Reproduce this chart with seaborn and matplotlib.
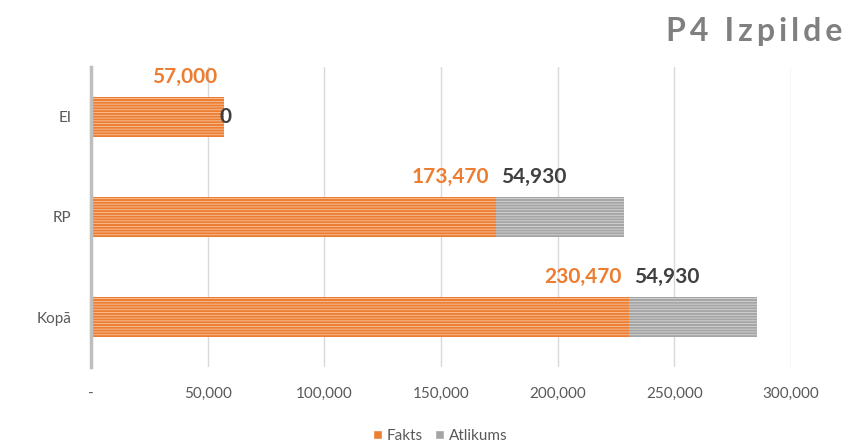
import matplotlib
matplotlib.use("Agg")
import matplotlib.pyplot as plt
from matplotlib.patches import Patch
import seaborn as sns
import pandas as pd

categories = ["EI", "RP", "Kopā"]
fakts = [57000, 173470, 230470]
atlikums = [0, 54930, 54930]
x_ticks = [0, 50000, 100000, 150000, 200000, 250000, 300000]
x_tick_labels = ["-", "50,000", "100,000", "150,000", "200,000", "250,000", "300,000"]
title = "P4 Izpilde"

ORANGE = "#ED7D31"
GRAY = "#A5A5A5"
TEXT = "#595959"

sns.set_theme(style="white")
plt.rcParams["font.family"] = ["Lato", "DejaVu Sans"]
plt.rcParams["hatch.linewidth"] = 0.6

df = pd.DataFrame({"cat": categories, "fakts": fakts, "atlikums": atlikums})
df["total"] = df["fakts"] + df["atlikums"]

fig = plt.figure(figsize=(8.48, 4.45), dpi=100)
ax = fig.add_axes([91 / 848, 78 / 445, 700 / 848, 300 / 445])

# total length drawn in gray, then the achieved part in orange over it
sns.barplot(data=df, x="total", y="cat", orient="h", color=GRAY, width=0.4,
            saturation=1, ax=ax, linewidth=0)
sns.barplot(data=df, x="fakts", y="cat", orient="h", color=ORANGE, width=0.4,
            saturation=1, ax=ax, linewidth=0)

for p in ax.patches:
    p.set_hatch("------")
    p.set_edgecolor((1, 1, 1, 0.55))
    p.set_linewidth(0)

ax.set_xlim(0, 300000)
ax.set_ylim(2.5, -0.5)
ax.set_xticks(x_ticks)
ax.set_xticklabels(x_tick_labels, color=TEXT, fontsize=11)
ax.tick_params(axis="y", labelsize=11, labelcolor=TEXT, length=0, pad=14)
ax.tick_params(axis="x", length=0, pad=14)
ax.set_xlabel("")
ax.set_ylabel("")
ax.grid(axis="x", color="#D9D9D9", linewidth=1)
ax.set_axisbelow(True)
for s in ["top", "right", "bottom"]:
    ax.spines[s].set_visible(False)
ax.spines["left"].set_color("#BFBFBF")
ax.spines["left"].set_linewidth(2.5)

for i, (f, a) in enumerate(zip(fakts, atlikums)):
    ax.annotate(f"{f:,}", xy=(f, i - 0.4), xytext=(-5, 0), textcoords="offset points",
                ha="right", va="center", color=ORANGE, fontsize=15, fontweight="bold")
    if a == 0:
        ax.annotate(f"{a:,}", xy=(f, i), xytext=(-3, 0), textcoords="offset points",
                    ha="left", va="center", color="#404040", fontsize=15, fontweight="bold")
    else:
        ax.annotate(f"{a:,}", xy=(f, i - 0.4), xytext=(4, 0), textcoords="offset points",
                    ha="left", va="center", color="#404040", fontsize=15, fontweight="bold")

# letter-spaced title using thin spaces between characters
spaced = "\u2009".join(title).replace("\u2009 \u2009", "\u2002")
fig.text(842 / 848, 1 - 31 / 445, spaced, ha="right", va="center",
         fontsize=23, fontweight="bold", color="#808080")

handles = [Patch(facecolor=ORANGE, label="Fakts"), Patch(facecolor=GRAY, label="Atlikums")]
fig.legend(handles=handles, loc="center", bbox_to_anchor=(440 / 848, 1 - 436 / 445),
           ncol=2, frameon=False, fontsize=11, labelcolor=TEXT, handlelength=0.6,
           handleheight=0.6, handletextpad=0.3, columnspacing=0.8)

fig.savefig("out.png", dpi=100)
